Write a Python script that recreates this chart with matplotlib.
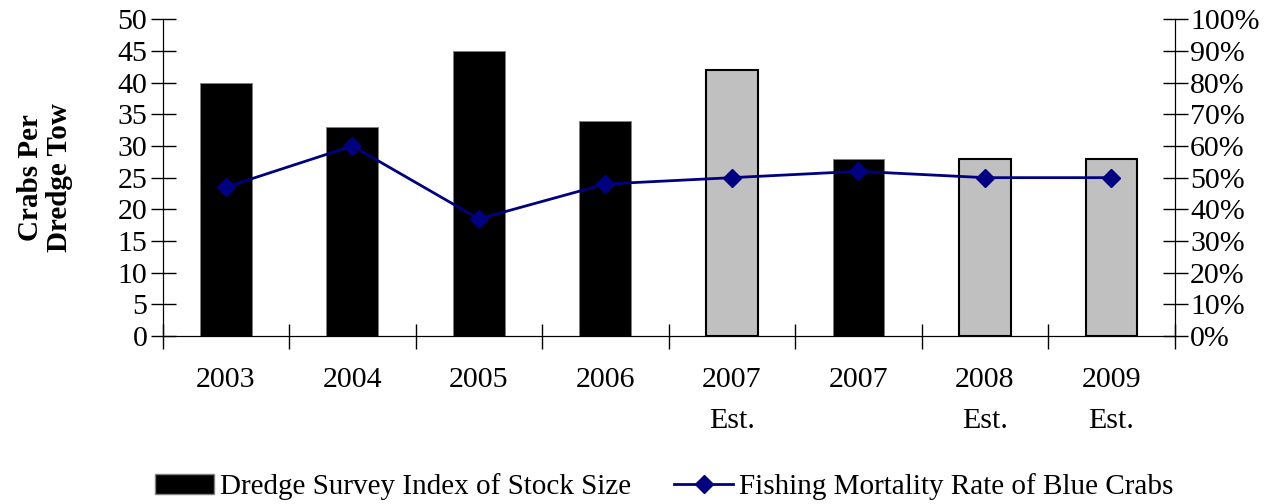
import matplotlib.pyplot as plt
import numpy as np
from matplotlib.patches import Patch
from matplotlib.lines import Line2D

plt.rcParams['font.family'] = ['Liberation Serif', 'DejaVu Serif']

labels = ['2003', '2004', '2005', '2006', '2007\nEst.', '2007', '2008\nEst.', '2009\nEst.']
crabs = [40, 33, 45, 34, 42, 28, 28, 28]
estimate = [False, False, False, False, True, False, True, True]
mortality = [47, 60, 37, 48, 50, 52, 50, 50]

fig = plt.figure(figsize=(12.7, 5.04), dpi=100)
ax = fig.add_axes([0.128, 0.333, 0.797, 0.629])
x = np.arange(len(labels))

colors = ['#c0c0c0' if e else 'black' for e in estimate]
edges = ['black' if e else '#808080' for e in estimate]
lws = [1.5 if e else 0.6 for e in estimate]
ax.bar(x, crabs, width=0.41, color=colors, edgecolor=edges, linewidth=lws, zorder=2)

ax.set_xlim(-0.5, len(labels) - 0.5)
ax.set_ylim(0, 50)
ax.set_yticks(np.arange(0, 51, 5))
ax.set_xticks(np.arange(-0.5, len(labels)), minor=False)
ax.set_xticklabels([])
ax.set_xticks(x, minor=True)
ax.set_xticklabels(labels, minor=True, fontsize=21.5, linespacing=1.75)
ax.tick_params(axis='x', which='minor', length=0, pad=22)
ax.tick_params(axis='x', which='major', direction='inout', length=18, width=1)
ax.tick_params(axis='y', direction='inout', length=18, width=1, labelsize=21.5, pad=2)
ax.spines['top'].set_visible(False)
ax.set_ylabel('Crabs Per\nDredge Tow', fontsize=21, fontweight='bold', labelpad=32,
              linespacing=1.1)

ax2 = ax.twinx()
ax2.plot(x, mortality, color='#000080', marker='D', markersize=9, linewidth=2,
         zorder=3)
ax2.set_ylim(0, 100)
ax2.set_yticks(np.arange(0, 101, 10))
ax2.set_yticklabels([f'{v}%' for v in range(0, 101, 10)])
ax2.tick_params(axis='y', direction='inout', length=18, width=1, labelsize=21.5, pad=2)
ax2.spines['top'].set_visible(False)

handles = [Patch(facecolor='black', edgecolor='#808080'),
           Line2D([0], [0], color='#000080', marker='D', markersize=9, linewidth=2)]
fig.legend(handles, ['Dredge Survey Index of Stock Size', 'Fishing Mortality Rate of Blue Crabs'],
           loc='lower center', bbox_to_anchor=(0.523, -0.045), ncol=2, frameon=False,
           fontsize=21, handlelength=2.0, handletextpad=0.2, columnspacing=1.5)

fig.savefig('out.png', dpi=100)
